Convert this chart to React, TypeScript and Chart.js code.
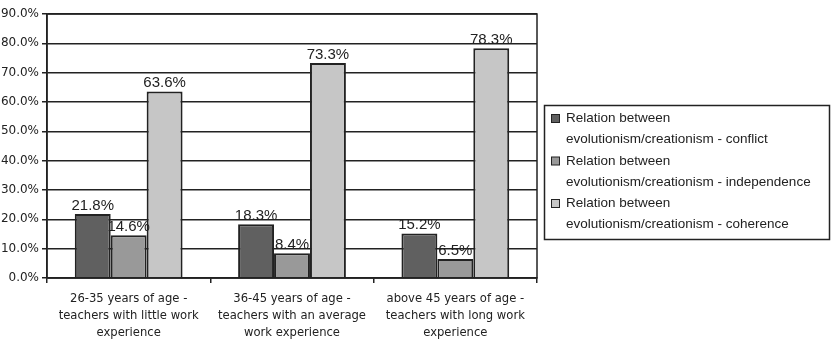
import React, { useEffect, useRef } from "react";
import { Chart, registerables } from "chart.js";

Chart.register(...registerables);

const categories: string[][] = [
  ["26-35 years of age -", "teachers with little work", "experience"],
  ["36-45 years of age -", "teachers with an average", "work experience"],
  ["above 45 years of age -", "teachers with long work", "experience"],
];

const conflictValues = [21.8, 18.3, 15.2];
const independenceValues = [14.6, 8.4, 6.5];
const coherenceValues = [63.6, 73.3, 78.3];

const seriesNames: string[][] = [
  ["Relation between", "evolutionism/creationism - conflict"],
  ["Relation between", "evolutionism/creationism - independence"],
  ["Relation between", "evolutionism/creationism - coherence"],
];

const seriesColors = ["#606060", "#999999", "#c6c6c6"];
const lineColor = "#222222";

// Frame around the plot area (top and right sides included)
const framePlugin = {
  id: "plotFrame",
  afterDraw(chart: any) {
    const { ctx, chartArea } = chart;
    ctx.save();
    ctx.strokeStyle = lineColor;
    ctx.lineWidth = 1.5;
    ctx.strokeRect(chartArea.left, chartArea.top, chartArea.right - chartArea.left, chartArea.bottom - chartArea.top);
    ctx.restore();
  },
};

// Value labels above each bar
const valueLabelPlugin = {
  id: "valueLabels",
  afterDatasetsDraw(chart: any) {
    const { ctx } = chart;
    ctx.save();
    ctx.font = "15px 'Liberation Sans', Arial, sans-serif";
    ctx.fillStyle = "#222222";
    ctx.textAlign = "center";
    ctx.textBaseline = "alphabetic";
    chart.data.datasets.forEach((ds: any, di: number) => {
      const meta = chart.getDatasetMeta(di);
      meta.data.forEach((bar: any, i: number) => {
        ctx.fillText(ds.data[i].toFixed(1) + "%", bar.x, bar.y - 4);
      });
    });
    ctx.restore();
  },
};

// Boxed legend with two-line entries on the right
const boxLegendPlugin = {
  id: "boxLegend",
  afterDraw(chart: any) {
    const { ctx } = chart;
    const left = 544.5;
    const top = 105.5;
    const width = 285;
    const height = 134;
    ctx.save();
    ctx.fillStyle = "#ffffff";
    ctx.fillRect(left, top, width, height);
    ctx.strokeStyle = lineColor;
    ctx.lineWidth = 1.5;
    ctx.strokeRect(left, top, width, height);
    ctx.font = "13.5px 'Liberation Sans', Arial, sans-serif";
    ctx.textAlign = "left";
    ctx.textBaseline = "middle";
    seriesNames.forEach((lines, i) => {
      const y0 = 118.5 + i * 42.5;
      ctx.fillStyle = seriesColors[i];
      ctx.fillRect(551.5, y0 - 4, 8, 8);
      ctx.strokeStyle = lineColor;
      ctx.lineWidth = 1;
      ctx.strokeRect(551.5, y0 - 4, 8, 8);
      ctx.fillStyle = "#222222";
      lines.forEach((t, li) => {
        ctx.fillText(t, 566, y0 + li * 21);
      });
    });
    ctx.restore();
  },
};

export default function App() {
  const canvasRef = useRef<HTMLCanvasElement | null>(null);

  useEffect(() => {
    if (!canvasRef.current) return;
    const chart = new Chart(canvasRef.current, {
      type: "bar",
      data: {
        labels: categories,
        datasets: [conflictValues, independenceValues, coherenceValues].map((vals, i) => ({
          label: seriesNames[i].join(" "),
          data: vals,
          backgroundColor: seriesColors[i],
          borderColor: lineColor,
          borderWidth: 2,
          barPercentage: 1,
          categoryPercentage: 0.66,
        })),
      },
      options: {
        responsive: false,
        animation: false,
        devicePixelRatio: 1,
        layout: { padding: { top: 14, right: 295, left: 0, bottom: 0 } },
        plugins: {
          legend: { display: false },
          tooltip: { enabled: false },
          title: { display: false },
        },
        scales: {
          x: {
            grid: {
              offset: true,
              drawOnChartArea: false,
              drawTicks: true,
              tickLength: 5,
              color: lineColor,
              lineWidth: 1.5,
            },
            border: { display: true, color: lineColor, width: 1.5 },
            ticks: {
              color: "#222222",
              padding: 8,
              maxRotation: 0,
              autoSkip: false,
              font: { family: "'DejaVu Sans', Verdana, sans-serif", size: 11.6, lineHeight: 1.45 },
            },
            afterFit(scale: any) {
              scale.height = 63;
            },
          },
          y: {
            min: 0,
            max: 90,
            ticks: {
              stepSize: 10,
              color: "#222222",
              padding: 3,
              font: { family: "'DejaVu Sans', Verdana, sans-serif", size: 12 },
              callback: (v: any) => Number(v).toFixed(1) + "%",
            },
            grid: {
              color: lineColor,
              lineWidth: 1.5,
              drawTicks: true,
              tickLength: 5,
            },
            border: { display: true, color: lineColor, width: 1.5 },
            afterFit(scale: any) {
              scale.width = 47;
            },
          },
        },
      },
      plugins: [valueLabelPlugin, framePlugin, boxLegendPlugin],
    });
    return () => chart.destroy();
  }, []);

  return (
    <div style={{ position: "absolute", left: 0, top: 0, width: 832, height: 341, background: "#ffffff" }}>
      <canvas ref={canvasRef} width={832} height={341} style={{ display: "block" }} />
    </div>
  );
}
